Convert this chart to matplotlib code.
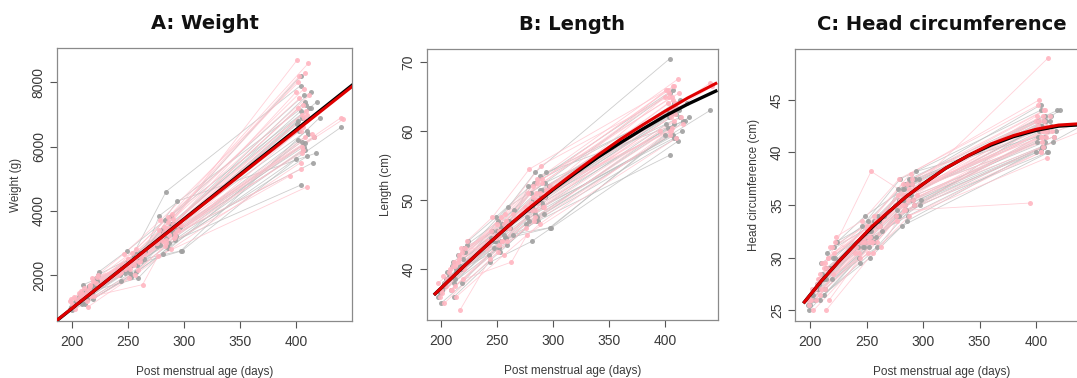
import numpy as np
import matplotlib
matplotlib.use('Agg')
import matplotlib.pyplot as plt

plt.rcParams['font.family'] = ['Liberation Sans Narrow', 'Liberation Sans', 'DejaVu Sans']

# group of each infant: 'g' = grey, 'p' = pink
group = ['g'] * 20 + ['p'] * 20 + ['g'] * 10 + ['p'] * 10

# post menstrual age (days) at each visit, one entry per infant
age_v1 = [199, 203, 206, 209, 211, 213, 215, 218, 221, 224, 200, 204, 207, 210, 212, 214, 217, 219, 222, 201,
          198, 202, 205, 208, 210, 212, 214, 216, 218, 220, 223, 199, 203, 206, 209, 211, 213, 215, 217, 221,
          205, 208, 212, 216, 220, 198, 202, 211, 214, 223, 200, 204, 207, 209, 213, 216, 219, 222, 201, 210]
age_v2 = [243, 247, 250, 252, 255, 258, 261, 264, 246, 249, 253, 256, 259, 262, 244, 251, 254, 257, 260, 248,
          241, 245, 248, 250, 252, 254, 256, 258, 260, 263, 246, 249, 251, 253, 255, 257, 259, 262, 244, 250,
          242, 245, 249, 253, 257, 250, 254, 247, 260, 265, 243, 247, 251, 255, 258, 261, 264, 240, 252, 256]
age_v3 = [276, 279, 282, 285, 288, 291, 294, 297, 280, 283, 286, 289, 292, 278, 281, 284, 287, 290, 293, 298,
          275, 278, 280, 282, 284, 286, 288, 290, 292, 277, 279, 281, 283, 285, 287, 289, 291, 294, 276, 285,
          277, 281, 284, 287, 290, 293, 296, 279, 283, 288, 278, 280, 282, 284, 286, 288, 290, 292, 295, 297]
age_v4 = [402, 405, 408, 410, 412, 415, 418, 421, 404, 407, 440, 403, 406, 409, 411, 404, 404, 408, 413, 400,
          401, 403, 405, 407, 409, 411, 404, 406, 408, 410, 402, 405, 395, 409, 440, 403, 406, 416, 404, 407,
          401, 404, 407, 410, 413, 416, 402, 405, 408, 419, 400, 402, 404, 406, 408, 410, 412, 414, 405, 442]

# weight (g)
wt_v1 = [1000, 1150, 1300, 1100, 1500, 1250, 1650, 1450, 1900, 2100, 900, 1200, 1400, 1700, 1100, 1550, 1600, 1250, 1800, 1050,
         1200, 1300, 1150, 1500, 1250, 1400, 1000, 1700, 1900, 1350, 2000, 1250, 950, 1450, 1300, 1600, 1200, 1550, 1350, 1750,
         1250, 1350, 1200, 1500, 1700, 950, 1100, 1300, 1450, 2000, 1100, 1250, 1300, 1400, 1500, 1650, 1800, 1950, 1000, 1350]
wt_v2 = [2000, 2250, 2400, 2050, 2600, 2300, 2700, 2500, 2200, 2750, 1950, 2350, 1900, 2450, 1800, 2400, 2300, 2100, 2550, 2250,
         2000, 2300, 2250, 2500, 2200, 2700, 2000, 2600, 2400, 1700, 2650, 2350, 1900, 2450, 2300, 2800, 2150, 2550, 2100, 2500,
         2100, 2250, 2200, 2450, 2650, 2150, 2350, 2050, 2500, 2750, 2050, 2200, 2350, 2400, 2600, 2450, 2700, 2150, 2300, 2500]
wt_v3 = [2900, 3100, 3300, 2900, 3600, 3250, 4300, 2750, 3400, 3700, 2850, 3400, 3100, 3850, 2650, 4600, 3000, 3350, 3500, 2750,
         3000, 3400, 3200, 3500, 3100, 3800, 2800, 3600, 3300, 2600, 3700, 3050, 2900, 3450, 3250, 3900, 3150, 3550, 3000, 3300,
         3050, 3300, 3150, 3400, 3600, 3200, 3500, 2950, 3100, 3850, 3100, 3250, 3350, 3000, 3650, 3450, 3750, 3200, 3400, 3550]
wt_v4 = [6200, 6900, 7400, 5700, 7200, 5500, 5800, 6900, 8200, 7600, 6600, 6500, 5900, 7300, 6400, 7900, 4800, 6100, 7200, 5600,
         8700, 8200, 7000, 7800, 6800, 8600, 5500, 7300, 6300, 4750, 8000, 6000, 5100, 7100, 6900, 7500, 6600, 6300, 5300, 6900,
         6700, 7100, 6000, 6500, 7700, 6300, 6800, 6150, 5900, 7400, 7700, 7200, 6500, 5900, 8300, 7000, 7600, 6400, 5800, 6850]

# length (cm)
len_v1 = [36.5, 38.0, 39.5, 37.0, 41.0, 38.5, 42.0, 40.0, 43.0, 44.0, 35.0, 37.5, 39.0, 40.5, 36.0, 39.5, 40.5, 38.0, 42.5, 37.0,
          38.0, 39.0, 37.5, 40.0, 37.0, 41.0, 36.0, 42.0, 43.0, 38.5, 44.0, 36.0, 35.0, 38.5, 37.0, 40.5, 37.5, 41.0, 34.0, 40.0,
          38.5, 39.0, 38.0, 40.0, 41.5, 36.0, 37.5, 39.0, 40.0, 43.5, 37.0, 38.0, 39.5, 39.0, 40.5, 41.5, 42.5, 43.0, 36.5, 39.0]
len_v2 = [42.0, 44.0, 45.5, 43.0, 46.5, 44.5, 47.0, 45.0, 45.5, 47.5, 42.5, 45.0, 43.5, 46.0, 41.0, 47.0, 44.0, 44.5, 49.0, 44.0,
          44.0, 45.5, 44.5, 46.5, 43.5, 47.5, 42.0, 47.0, 46.0, 41.0, 47.5, 44.5, 42.5, 45.5, 44.0, 48.0, 44.0, 46.5, 41.5, 45.0,
          43.5, 44.5, 44.0, 45.5, 46.5, 45.0, 46.0, 43.0, 46.0, 48.5, 43.5, 44.5, 45.0, 44.0, 47.0, 46.0, 48.0, 43.0, 45.5, 46.5]
len_v3 = [46.5, 48.5, 50.0, 47.0, 51.5, 49.0, 54.0, 46.0, 51.0, 52.5, 47.5, 50.5, 48.0, 52.0, 44.0, 54.0, 47.0, 49.5, 52.5, 46.0,
          49.0, 51.0, 49.5, 52.0, 48.5, 53.0, 46.5, 52.5, 50.5, 45.0, 54.5, 48.5, 47.0, 51.0, 49.5, 55.0, 49.0, 51.5, 46.0, 50.0,
          47.5, 49.0, 48.0, 50.0, 51.5, 50.5, 52.0, 47.0, 48.5, 53.5, 48.5, 49.5, 50.5, 47.5, 52.5, 51.0, 53.0, 49.0, 51.5, 52.0]
len_v4 = [60.5, 62.5, 64.0, 59.0, 63.0, 60.0, 61.5, 62.0, 65.5, 66.0, 63.0, 62.0, 59.5, 63.5, 58.5, 70.5, 56.5, 61.0, 62.0, 59.5,
          66.0, 65.5, 63.0, 66.5, 62.5, 67.5, 60.0, 65.0, 61.5, 59.0, 66.0, 62.0, 60.0, 64.0, 67.0, 65.0, 63.0, 61.0, 59.5, 64.5,
          61.0, 63.0, 59.5, 62.5, 64.5, 61.5, 63.0, 60.5, 59.0, 64.0, 65.0, 64.0, 62.5, 60.5, 66.5, 63.5, 65.5, 62.0, 60.0, 66.5]

# head circumference (cm)
hc_v1 = [25.0, 26.5, 27.5, 26.0, 28.5, 27.0, 30.5, 29.0, 31.0, 31.5, 25.5, 26.0, 27.0, 29.5, 26.5, 28.0, 29.0, 28.0, 30.0, 26.0,
         26.0, 27.0, 26.0, 28.0, 27.0, 29.0, 25.0, 30.0, 31.0, 28.5, 32.0, 25.5, 25.0, 27.5, 26.5, 29.5, 27.0, 29.0, 26.0, 30.5,
         27.0, 27.5, 28.0, 29.0, 30.0, 25.5, 26.5, 28.0, 29.0, 31.5, 26.0, 27.0, 28.0, 28.5, 29.5, 30.0, 31.0, 31.5, 26.0, 28.0]
hc_v2 = [30.0, 31.5, 32.5, 31.0, 33.0, 32.0, 33.5, 32.5, 33.0, 34.0, 30.0, 31.5, 31.0, 33.0, 29.5, 33.5, 32.0, 31.5, 34.0, 31.0,
         31.0, 31.5, 32.0, 33.0, 31.5, 38.2, 30.5, 33.5, 33.0, 31.0, 33.5, 31.5, 30.5, 32.0, 31.5, 34.0, 31.5, 33.0, 30.0, 32.5,
         31.0, 31.5, 31.5, 32.5, 33.5, 32.0, 32.5, 31.0, 33.0, 34.0, 30.5, 31.5, 32.0, 31.5, 33.5, 33.0, 34.0, 30.5, 32.0, 33.0]
hc_v3 = [34.0, 35.5, 36.5, 34.5, 37.0, 35.5, 38.2, 35.0, 37.5, 36.5, 33.5, 36.0, 35.0, 36.5, 33.0, 37.0, 34.0, 35.5, 37.5, 35.5,
         35.0, 36.0, 35.5, 37.0, 35.0, 36.0, 34.0, 37.0, 36.5, 33.5, 37.5, 35.0, 34.5, 36.0, 35.5, 38.0, 35.5, 36.5, 34.0, 36.0,
         34.5, 35.5, 35.0, 36.0, 37.0, 36.5, 37.5, 34.0, 35.5, 37.5, 35.0, 35.5, 36.0, 34.5, 37.0, 36.5, 37.5, 35.0, 36.0, 37.0]
hc_v4 = [41.5, 42.5, 43.5, 40.0, 43.0, 41.0, 42.0, 44.0, 44.0, 43.0, 42.5, 42.0, 40.5, 43.0, 40.0, 44.5, 40.2, 41.5, 42.5, 40.0,
         43.5, 43.0, 42.0, 44.0, 41.5, 49.0, 40.0, 43.5, 42.0, 39.5, 44.5, 41.5, 35.2, 42.5, 42.0, 45.0, 42.0, 41.5, 40.0, 43.0,
         41.0, 42.5, 40.5, 42.0, 43.5, 41.5, 43.0, 40.5, 41.0, 44.0, 43.0, 42.5, 41.5, 40.5, 44.0, 42.0, 43.5, 42.0, 41.0, 43.0]

# fitted mean curves
fit_wt_age = [180, 250, 320, 390, 455]
fit_wt_black = [400, 2350, 4300, 6250, 8050]
fit_wt_red = [410, 2345, 4280, 6215, 8010]

fit_len_age = [195, 220, 240, 260, 280, 300, 320, 340, 360, 380, 400, 420, 445]
fit_len_black = [36.4, 40.3, 43.3, 46.2, 48.9, 51.5, 53.9, 56.2, 58.3, 60.3, 62.2, 63.9, 65.8]
fit_len_red = [36.4, 40.3, 43.3, 46.2, 49.0, 51.6, 54.1, 56.5, 58.8, 60.9, 62.9, 64.8, 66.9]

fit_hc_age = [195, 210, 225, 240, 255, 270, 285, 300, 320, 340, 360, 380, 400, 420, 450]
fit_hc_black = [25.8, 27.8, 29.6, 31.3, 32.9, 34.4, 35.8, 37.0, 38.5, 39.7, 40.7, 41.5, 42.1, 42.5, 42.7]
fit_hc_red = [25.8, 27.8, 29.6, 31.3, 33.0, 34.4, 35.8, 37.0, 38.5, 39.7, 40.8, 41.6, 42.2, 42.6, 42.8]

colors = {'g': ('#a0a0a0', '#bdbdbd'), 'p': ('#ffb6c1', '#ffc2cc')}
text_col = '#3a3a3a'


def draw_panel(ax, visits, fit_age, fit_black, fit_red, title, ylabel, xlim, ylim, yticks):
    ages = np.array([age_v1, age_v2, age_v3, age_v4]).T
    vals = np.array(visits).T
    for grp in ['g', 'p']:
        pt_col, ln_col = colors[grp]
        for i, g in enumerate(group):
            if g != grp:
                continue
            ax.plot(ages[i], vals[i], color=ln_col, lw=0.6, alpha=0.75, zorder=2)
            ax.plot(ages[i], vals[i], 'o', color=pt_col, ms=3.6, mec='none', alpha=0.9, zorder=3)
    ax.plot(fit_age, fit_black, color='black', lw=2.4, zorder=4)
    ax.plot(fit_age, fit_red, color='#e00000', lw=2.2, zorder=5)

    ax.set_xlim(*xlim)
    ax.set_ylim(*ylim)
    ax.set_xticks([200, 250, 300, 350, 400])
    ax.set_yticks(yticks)
    ax.set_yticklabels([str(t) for t in yticks], rotation=90, va='center')
    ax.tick_params(colors='#555555', labelcolor=text_col, labelsize=10, length=5, width=0.8, pad=3)
    ax.tick_params(axis='x', pad=5)
    for sp in ax.spines.values():
        sp.set_color('#8a8a8a')
        sp.set_linewidth(0.9)
    ax.set_xlabel('Post menstrual age (days)', fontsize=8.5, color=text_col, labelpad=12)
    ax.set_ylabel(ylabel, fontsize=8.5, color=text_col, labelpad=7)
    ax.set_title(title, fontsize=14, fontweight='bold', family='DejaVu Sans', color='#111111', pad=14)


fig = plt.figure(figsize=(10.77, 3.78), dpi=100)
ax_a = fig.add_axes([0.0529, 0.1508, 0.274, 0.722])
ax_b = fig.add_axes([0.3962, 0.1534, 0.2705, 0.717])
ax_c = fig.add_axes([0.7382, 0.1508, 0.272, 0.719])

draw_panel(ax_a, [wt_v1, wt_v2, wt_v3, wt_v4], fit_wt_age, fit_wt_black, fit_wt_red,
           'A: Weight', 'Weight (g)', (186.6, 450), (567, 9070), [2000, 4000, 6000, 8000])
draw_panel(ax_b, [len_v1, len_v2, len_v3, len_v4], fit_len_age, fit_len_black, fit_len_red,
           'B: Length', 'Length (cm)', (187.5, 447), (32.6, 71.9), [40, 50, 60, 70])
draw_panel(ax_c, [hc_v1, hc_v2, hc_v3, hc_v4], fit_hc_age, fit_hc_black, fit_hc_red,
           'C: Head circumference', 'Head circumference (cm)', (186.7, 446), (24.0, 49.8), [25, 30, 35, 40, 45])

fig.savefig('out.png', dpi=100)
